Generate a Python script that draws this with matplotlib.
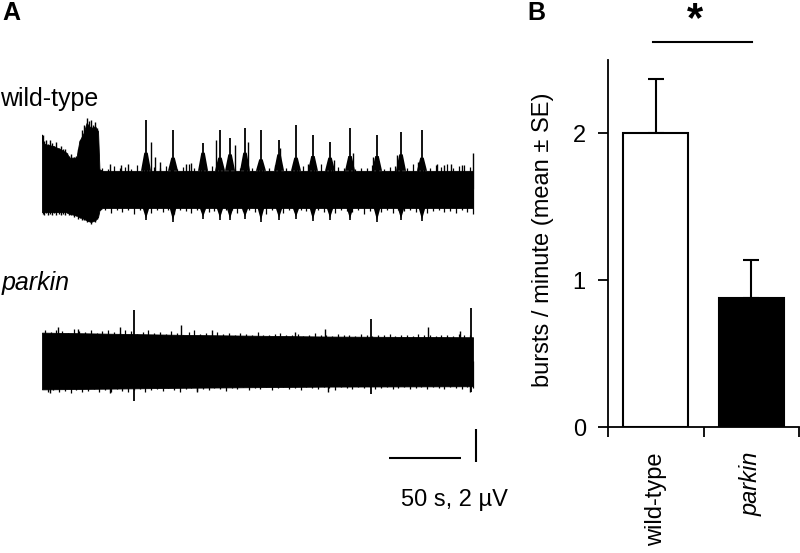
import matplotlib
matplotlib.use('Agg')
import matplotlib.pyplot as plt
import numpy as np

plt.rcParams['font.family'] = ['Liberation Sans', 'DejaVu Sans']

# ---- panel A: extracellular traces (time in s, amplitude in uV) ----
# wild-type envelope (early noisy stretch, then quiet baseline)
wt_env_t = [0, 0.5, 3, 8, 13, 17, 19, 24, 26, 29, 31, 34, 37, 39, 40, 42, 300]
wt_env_up = [3.3, 2.8, 2.7, 2.6, 2.4, 2.2, 1.9, 1.9, 2.9, 3.4, 4.0, 3.7, 3.8, 3.5, 1.2, 1.1, 1.1]
wt_env_lo = [-1.4, -1.4, -1.4, -1.4, -1.4, -1.4, -1.5, -1.6, -1.7, -1.8, -1.9, -2.0,
             -1.9, -1.7, -1.3, -1.15, -1.15]

# spiky texture of the early stretch
wt_early_t = [0.5, 1.5, 2.5, 4, 5.5, 7, 8.5, 10, 11.5, 13, 14.5, 16, 17.5, 19, 20.5, 22,
              23.5, 25, 26.5, 28, 29.5, 31, 32.5, 34, 35.5, 37, 38.5]
wt_early_h = [3.3, 2.9, 3.0, 2.7, 2.95, 2.8, 2.6, 2.85, 2.5, 2.6, 2.4, 2.45, 2.2, 2.0,
              2.1, 1.95, 2.0, 2.4, 3.0, 3.6, 3.9, 4.3, 4.1, 4.2, 3.9, 4.05, 3.7]
wt_early_low = [-1.5, -1.6, -1.45, -1.55, -1.5, -1.6, -1.45, -1.55, -1.5, -1.6, -1.5,
                -1.55, -1.45, -1.6, -1.55, -1.7, -1.65, -1.8, -1.75, -1.9, -1.85, -2.0,
                -1.95, -2.1, -1.9, -2.0, -1.8]

# wild-type bursts: time, peak, shoulder height, downward deflection
wt_burst_t = [72.4, 91.2, 112.1, 123.9, 130.9, 141.3, 152.4, 165.0, 176.8, 188.6,
              200.5, 214.4, 233.2, 249.9, 264.5]
wt_burst_peak = [4.2, 3.6, 2.8, 3.6, 3.1, 3.7, 3.6, 3.0, 3.9, 3.3, 2.85, 3.7, 3.3, 3.45, 3.6]
wt_burst_shoulder = [2.2, 1.9, 2.2, 1.9, 2.1, 2.2, 1.8, 2.1, 1.9, 2.0, 1.9, 2.0, 2.0, 2.1, 1.9]
wt_burst_low = [-1.8, -1.9, -1.7, -1.75, -1.8, -1.7, -1.9, -1.75, -1.7, -1.85, -1.75,
                -1.8, -1.9, -1.8, -1.85]

# smaller secondary spikes on the wild-type trace
wt_small_t = [47, 55, 60, 75.9, 78.7, 82, 100, 104, 121, 134.3, 143.4, 165.7, 185,
              203.2, 216.5, 230.4, 247, 261.7, 275, 280, 285, 292, 300]
wt_small_h = [1.5, 1.45, 1.5, 2.85, 1.95, 1.65, 1.5, 1.55, 2.95, 2.65, 2.85, 2.5, 1.5,
              1.75, 2.2, 1.95, 2.05, 1.65, 1.5, 1.45, 1.5, 1.45, 2.2]

# ragged edge of the wild-type baseline (one value every 4 s from 42 s)
wt_edge_up = [1.3, 1.2, 1.4, 1.25, 1.35, 1.2, 1.45, 1.3, 1.2, 1.35,
              1.25, 1.4, 1.3, 1.2, 1.35, 1.5, 1.25, 1.3, 1.2, 1.4,
              1.3, 1.25, 1.45, 1.2, 1.3, 1.35, 1.25, 1.4, 1.2, 1.3,
              1.45, 1.25, 1.3, 1.2, 1.35, 1.4, 1.25, 1.3, 1.5, 1.2,
              1.3, 1.35, 1.25, 1.4, 1.2, 1.3, 1.25, 1.45, 1.3, 1.2,
              1.35, 1.4, 1.25, 1.3, 1.5, 1.35, 1.4, 1.3, 1.45, 1.35,
              1.5, 1.3, 1.4, 1.45, 1.35]
wt_edge_lo = [-1.3, -1.45, -1.25, -1.4, -1.3, -1.5, -1.25, -1.35, -1.45, -1.3,
              -1.4, -1.25, -1.5, -1.3, -1.35, -1.45, -1.3, -1.25, -1.4, -1.35,
              -1.5, -1.3, -1.25, -1.45, -1.35, -1.3, -1.4, -1.25, -1.5, -1.3,
              -1.35, -1.45, -1.3, -1.4, -1.25, -1.35, -1.5, -1.3, -1.4, -1.3,
              -1.45, -1.25, -1.35, -1.4, -1.3, -1.5, -1.35, -1.25, -1.4, -1.3,
              -1.45, -1.3, -1.35, -1.25, -1.4, -1.3, -1.45, -1.35, -1.3, -1.4,
              -1.35, -1.45, -1.3, -1.4, -1.5]

# parkin envelope and spikes
pk_env_t = [0, 100, 200, 300]
pk_env_up = [1.72, 1.58, 1.48, 1.44]
pk_env_lo = [-1.72, -1.62, -1.55, -1.53]

pk_spike_t = [64, 229, 298.6]
pk_spike_h = [3.1, 2.55, 3.2]
pk_spike_low = [-2.4, -2.0, -1.9]

pk_small_t = [11, 25, 54, 97, 118, 176, 197, 269, 291]
pk_small_h = [2.06, 1.94, 2.06, 2.18, 1.88, 1.76, 1.94, 2.06, 1.82]
pk_small_low_t = [5.6, 47, 108, 199, 298]
pk_small_low_h = [-1.94, -1.94, -1.9, -1.85, -1.9]

# ragged edge of the parkin trace (one value every 4 s from 2 s)
pk_edge_up = [1.85, 1.75, 1.9, 1.8, 1.7, 1.95, 1.8, 1.75, 1.85, 1.7,
              1.8, 1.9, 1.75, 1.7, 1.85, 1.8, 1.65, 1.75, 1.9, 1.7,
              1.75, 1.65, 1.8, 1.7, 1.6, 1.75, 1.85, 1.65, 1.7, 1.6,
              1.75, 1.65, 1.7, 1.55, 1.7, 1.65, 1.6, 1.75, 1.6, 1.55,
              1.65, 1.7, 1.55, 1.6, 1.65, 1.5, 1.6, 1.7, 1.55, 1.6,
              1.5, 1.65, 1.55, 1.6, 1.5, 1.65, 1.55, 1.5, 1.6, 1.55,
              1.65, 1.5, 1.6, 1.55, 1.5, 1.65, 1.55, 1.6, 1.5, 1.55,
              1.6, 1.5, 1.65, 1.55, 1.6]
pk_edge_lo = [-1.85, -1.75, -1.9, -1.8, -1.95, -1.75, -1.85, -1.8, -1.7, -1.9,
              -1.75, -1.85, -1.7, -1.8, -1.9, -1.75, -1.7, -1.85, -1.75, -1.7,
              -1.8, -1.65, -1.75, -1.85, -1.7, -1.65, -1.8, -1.7, -1.75, -1.65,
              -1.7, -1.8, -1.65, -1.7, -1.6, -1.75, -1.65, -1.7, -1.6, -1.75,
              -1.65, -1.6, -1.7, -1.65, -1.75, -1.6, -1.65, -1.7, -1.6, -1.65,
              -1.75, -1.6, -1.65, -1.7, -1.6, -1.65, -1.6, -1.7, -1.65, -1.6,
              -1.7, -1.65, -1.6, -1.7, -1.65, -1.6, -1.7, -1.6, -1.65, -1.7,
              -1.6, -1.65, -1.7, -1.6, -1.65]

scale_s = 50
scale_uv = 2

# ---- panel B: burst rate ----
groups = ['wild-type', 'parkin']
rate_mean = [2.0, 0.88]
rate_se = [0.37, 0.26]

W, H = 800, 553
fig = plt.figure(figsize=(W / 100, H / 100), dpi=100)

# axes for the traces, scaled so 1 s = 431/300 px and 1 uV = 16.5 px
px_s = 431 / 300
px_uv = 16.5
axA = fig.add_axes([0, 0, 528 / W, 1])
axA.set_xlim(-42 / px_s, (528 - 42) / px_s)
axA.set_ylim(0, H / px_uv)
axA.axis('off')

wt_off = (H - 189) / px_uv
pk_off = (H - 361) / px_uv


def draw_trace(ax, off, env_t, up, lo):
    ax.fill_between(env_t, off + np.array(lo), off + np.array(up), color='black', lw=0.6,
                    edgecolor='black')


def spikes(ax, off, t, lo, hi, lw=1.0):
    ax.vlines(t, off + np.array(lo, dtype=float), off + np.array(hi, dtype=float),
              color='black', lw=lw)


# wild-type
draw_trace(axA, wt_off, wt_env_t, wt_env_up, wt_env_lo)
spikes(axA, wt_off, wt_early_t, wt_early_low, wt_early_h)
edge_t = np.arange(42, 300, 4)
spikes(axA, wt_off, edge_t, np.zeros(len(edge_t)), wt_edge_up, lw=0.9)
spikes(axA, wt_off, edge_t + 2, wt_edge_lo, np.zeros(len(edge_t)), lw=0.9)
for t, pk, sh, lo in zip(wt_burst_t, wt_burst_peak, wt_burst_shoulder, wt_burst_low):
    base = np.interp(t, wt_env_t, wt_env_up)
    axA.fill([t - 3.5, t - 1.2, t + 1.2, t + 3.5],
             [wt_off + base, wt_off + sh, wt_off + sh, wt_off + base], color='black', lw=0)
    axA.vlines(t, wt_off, wt_off + pk, color='black', lw=1.3)
    axA.fill([t - 2.5, t, t + 2.5], [wt_off - 1.1, wt_off + lo, wt_off - 1.1],
             color='black', lw=0)
    axA.vlines(t, wt_off + lo - 0.1, wt_off, color='black', lw=1.2)
spikes(axA, wt_off, wt_small_t, np.zeros(len(wt_small_t)), wt_small_h)

# parkin
draw_trace(axA, pk_off, pk_env_t, pk_env_up, pk_env_lo)
pk_edge_t = np.arange(2, 300, 4)
spikes(axA, pk_off, pk_edge_t, np.zeros(len(pk_edge_t)), pk_edge_up, lw=0.9)
spikes(axA, pk_off, pk_edge_t + 2, pk_edge_lo, np.zeros(len(pk_edge_t)), lw=0.9)
spikes(axA, pk_off, pk_spike_t, pk_spike_low, pk_spike_h, lw=1.3)
spikes(axA, pk_off, pk_small_t, np.zeros(len(pk_small_t)), pk_small_h)
spikes(axA, pk_off, pk_small_low_t, pk_small_low_h, np.zeros(len(pk_small_low_t)))

# scale bar
sb_y = (H - 458) / px_uv
axA.plot([241.5, 241.5 + scale_s], [sb_y, sb_y], color='black', lw=1.5,
         solid_capstyle='butt')
sb_x = (476 - 42) / px_s
sb_y0 = (H - 462) / px_uv
axA.plot([sb_x, sb_x], [sb_y0, sb_y0 + scale_uv], color='black', lw=1.5,
         solid_capstyle='butt')

fig.text(401 / W, 1 - 506 / H, '%d s, %d µV' % (scale_s, scale_uv), fontsize=17,
         va='baseline', ha='left')
fig.text(2 / W, 1 - 13 / H, 'A', fontsize=18, fontweight='bold', va='center')
fig.text(0 / W, 1 - 106 / H, 'wild-type', fontsize=18, va='baseline')
fig.text(2 / W, 1 - 290 / H, 'parkin', fontsize=18, style='italic', va='baseline')

# bar chart
axB = fig.add_axes([608 / W, (H - 427) / H, 191 / W, (427 - 60) / H])
xpos = [0.5, 1.5]
axB.bar(xpos, rate_mean, width=0.68, color=['white', 'black'], edgecolor='black',
        linewidth=1.5, zorder=2)
axB.errorbar(xpos, rate_mean, yerr=[[0, 0], rate_se], fmt='none', ecolor='black',
             elinewidth=1.5, capsize=6, capthick=1.5, zorder=1)
axB.set_xlim(0, 2)
axB.set_ylim(0, 2.5)
axB.spines['top'].set_visible(False)
axB.spines['right'].set_visible(False)
axB.spines['left'].set_linewidth(1.3)
axB.spines['bottom'].set_linewidth(1.3)
axB.set_yticks([0, 1, 2])
axB.set_xticks([0, 1, 2])
axB.set_xticklabels([])
axB.set_xticks(xpos, minor=True)
axB.set_xticklabels(groups, minor=True, rotation=90, va='top')
axB.get_xticklabels(minor=True)[1].set_style('italic')
axB.tick_params(axis='both', which='major', length=7, width=1.3, labelsize=17)
axB.tick_params(axis='y', pad=9)
axB.tick_params(axis='x', which='minor', length=0, pad=18, labelsize=17)

fig.text(543 / W, 1 - 240 / H, 'bursts / minute (mean ± SE)', fontsize=17, rotation=90,
         ha='center', va='center')
fig.text(527 / W, 1 - 13 / H, 'B', fontsize=18, fontweight='bold', va='center')

# significance marker
axB.plot([0.47, 1.51], [2.62, 2.62], color='black', lw=1.5, clip_on=False)
axB.text(0.91, 2.77, '*', fontsize=30, fontweight='bold', ha='center', va='center')

fig.savefig('out.png', dpi=100)
